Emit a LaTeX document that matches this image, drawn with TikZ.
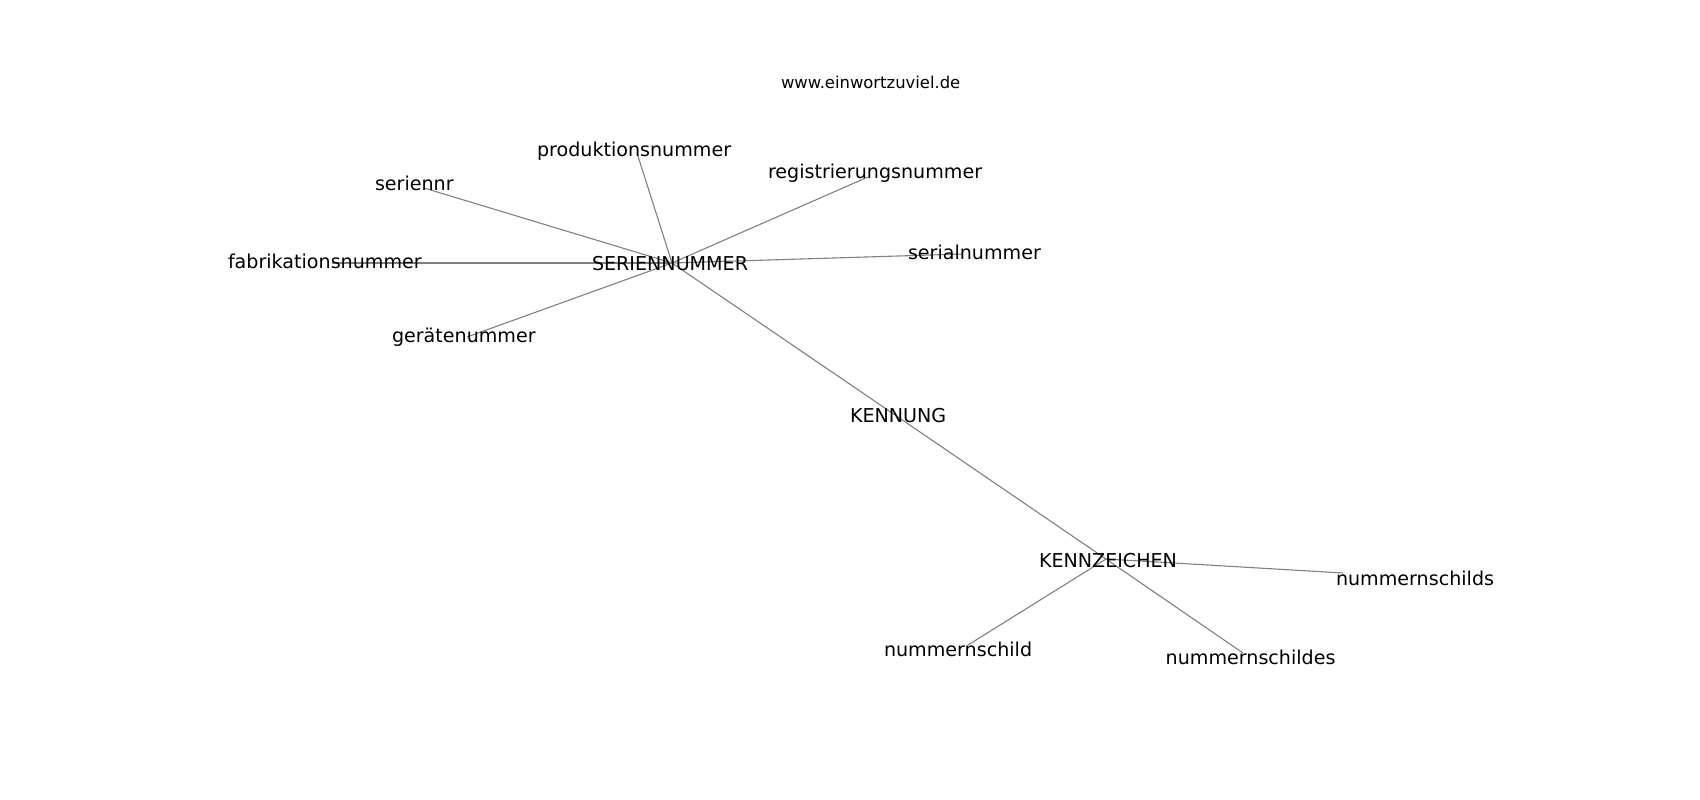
\documentclass[tikz,border=0pt]{standalone}
\usepackage{fontspec}
\setmainfont{DejaVu Sans}
\definecolor{edgegray}{RGB}{128,128,128}
\begin{document}
\begin{tikzpicture}[x=1pt,y=-1pt,
  lbl/.style={anchor=base west, inner sep=0pt, outer sep=0pt, font=\fontsize{19.1}{23}\selectfont, text=black},
  web/.style={anchor=base west, inner sep=0pt, outer sep=0pt, font=\fontsize{16.4}{20}\selectfont, text=black},
  edge/.style={draw=edgegray, line width=1.1pt}]
\useasboundingbox (0,0) rectangle (1700,800);
% edge end points
\coordinate (cSer) at (672,263);
\coordinate (cKen) at (898,417);
\coordinate (cKz) at (1106,559);
\coordinate (cProd) at (637,153);
\coordinate (cReg) at (868,177);
\coordinate (cSnr) at (424,188);
\coordinate (cFab) at (332,263);
\coordinate (cSerial) at (963,254);
\coordinate (cGer) at (467,337);
\coordinate (cNs) at (1343,573);
\coordinate (cN) at (968,645);
\coordinate (cNes) at (1243,653);
% edges
\draw[edge] (cSer) -- (cProd);
\draw[edge] (cSer) -- (cReg);
\draw[edge] (cSer) -- (cSnr);
\draw[edge] (cSer) -- (cFab);
\draw[edge] (cSer) -- (cSerial);
\draw[edge] (cSer) -- (cGer);
\draw[edge] (cSer) -- (cKen);
\draw[edge] (cKen) -- (cKz);
\draw[edge] (cKz) -- (cNs);
\draw[edge] (cKz) -- (cN);
\draw[edge] (cKz) -- (cNes);
% labels
\node[web] (web) at (781,88.3) {www.einwortzuviel.de};
\node[lbl] (prod) at (537,156) {produktionsnummer};
\node[lbl] (reg) at (768,178.3) {registrierungsnummer};
\node[lbl] (snr) at (375,190.7) {seriennr};
\node[lbl] (fab) at (228,268.3) {fabrikationsnummer};
\node[lbl] (ser) at (592,270.6) {SERIENNUMMER};
\node[lbl] (serial) at (908,259.3) {serialnummer};
\node[lbl] (ger) at (392,342.7) {gerätenummer};
\node[lbl] (ken) at (850,422.7) {KENNUNG};
\node[lbl] (kz) at (1039,567.3) {KENNZEICHEN};
\node[lbl] (ns) at (1336,585) {nummernschilds};
\node[lbl] (n) at (884,656.7) {nummernschild};
\node[lbl] (nes) at (1165.7,664) {nummernschildes};
\end{tikzpicture}
\end{document}
